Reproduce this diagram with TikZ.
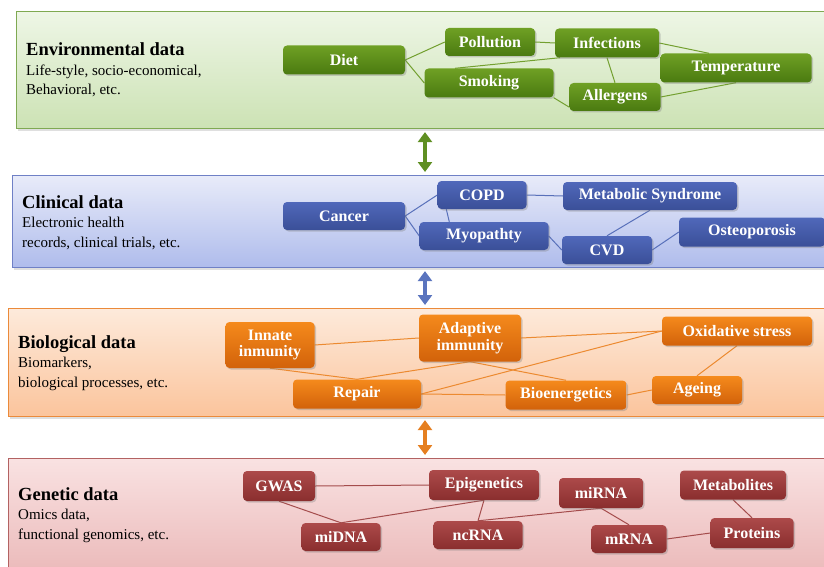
\documentclass[tikz,border=0pt]{standalone}
\usepackage{fontspec}
\setmainfont{Liberation Serif}
\usetikzlibrary{shadows,arrows.meta}

\definecolor{envtop}{HTML}{EEF6E6}   \definecolor{envbot}{HTML}{CCE2B4}
\definecolor{envrim}{HTML}{7FA952}   \definecolor{envlinkcol}{HTML}{73A030}
\definecolor{envnodetop}{HTML}{6FA024} \definecolor{envnodebot}{HTML}{4A7A10}
\definecolor{clintop}{HTML}{E8EBF9}  \definecolor{clinbot}{HTML}{AFBCEC}
\definecolor{clinrim}{HTML}{6F80C6}  \definecolor{clinlinkcol}{HTML}{5870BA}
\definecolor{clinnodetop}{HTML}{5068BA} \definecolor{clinnodebot}{HTML}{3A4F98}
\definecolor{biotop}{HTML}{FDEADB}   \definecolor{biobot}{HTML}{FBC49C}
\definecolor{biorim}{HTML}{EB8A3A}   \definecolor{biolinkcol}{HTML}{EC8A30}
\definecolor{bionodetop}{HTML}{F58A1C} \definecolor{bionodebot}{HTML}{D2620A}
\definecolor{gentop}{HTML}{F9E2E2}   \definecolor{genbot}{HTML}{EBB9B9}
\definecolor{genrim}{HTML}{B36262}   \definecolor{genlinkcol}{HTML}{A44C4C}
\definecolor{gennodetop}{HTML}{AC4A4A} \definecolor{gennodebot}{HTML}{8A2E2E}
\definecolor{envarrowcol}{HTML}{5F8F22}
\definecolor{clinarrowcol}{HTML}{5A74BE}
\definecolor{bioarrowcol}{HTML}{E57F20}

\pgfdeclarelayer{panels}
\pgfdeclarelayer{links}
\pgfsetlayers{panels,links,main}

% heading and two lines of text on the left of a panel
\newcommand{\panellabel}[6]{%
  \node[headtext] (#1head) at (#2,#3) {#4};
  \node[bodytext] (#1one) at (#2,#3+19.5) {#5};
  \node[bodytext] (#1two) at (#2,#3+39) {#6};}

\def \envnodes {Diet/344/60/122/29/Diet,Pollution/490/42/90/28/Pollution,Infections/607/43/104/29/Infections,Smoking/489/83/129/29/Smoking,Allergens/615/97/91/28/Allergens,Temperature/736/68/151/29/Temperature}
\def \clinnodes {Cancer/344/216/122/28/Cancer,COPD/482/195/89/28/COPD,Metab/650/196/174/28/Metabolic Syndrome,Myo/484/236/129/28/Myopathty,CVD/607/250/90/28/CVD,Osteo/752/232/146/29/Osteoporosis}
\def \bionodes {Innate/270/345/89/46/Innate\\inmunity,Adaptive/470/338/102/47/Adaptive\\immunity,Oxid/737/331/150/29/Oxidative stress,Repair/357/394/128/29/Repair,Bioen/566/395/121/29/Bioenergetics,Ageing/697/390/90/28/Ageing}
\def \gennodes {GWAS/279/486/72/30/GWAS,miDNA/341/537/79/28/miDNA,Epi/484/485/110/30/Epigenetics,ncRNA/478/535/89/28/ncRNA,miRNA/601/493/84/30/miRNA,mRNA/629/539/75/28/mRNA,Metabo/733/485/106/29/Metabolites,Proteins/752/533/83/30/Proteins}

\def \envlinks {Diet.east/Pollution.west,Diet.east/Smoking.west,Pollution.east/Infections.west,Infections.south/Allergens.north,Allergens.east/Temperature.south}
\def \clinlinks {Cancer.east/COPD.west,Cancer.east/Myo.west,COPD.east/Metab.west,Myo.east/CVD.west,Metab.south/CVD.north,CVD.east/Osteo.west}
\def \biolinks {Innate.east/Adaptive.west,Adaptive.east/Oxid.west,Innate.south/Repair.north,Repair.north/Adaptive.south,Adaptive.south/Bioen.north,Repair.east/Bioen.west,Repair.east/Oxid.west,Bioen.east/Ageing.west,Ageing.north/Oxid.south}
\def \genlinks {GWAS.east/Epi.west,GWAS.south/miDNA.north,miDNA.north/Epi.south,Epi.south/ncRNA.north,ncRNA.north/miRNA.south,miRNA.south/mRNA.north,mRNA.east/Proteins.west,Metabo.south/Proteins.north}

\begin{document}
\begin{tikzpicture}
   [x=1pt, y=-1pt,
   panel/.style={anchor=north west, inner sep=0pt, line width=1.1pt,
      drop shadow={opacity=.25, shadow xshift=1.5pt, shadow yshift=-2pt}},
   headtext/.style={anchor=base west, inner sep=0pt, font=\fontsize{18.5}{19}\selectfont\bfseries},
   bodytext/.style={anchor=base west, inner sep=0pt, font=\fontsize{15}{19}\selectfont},
   box/.style={rounded corners=4pt, inner sep=0pt, align=center, text=white,
      font=\fontsize{16}{16.5}\selectfont\bfseries,
      drop shadow={opacity=.35, shadow xshift=1.5pt, shadow yshift=-1.5pt}},
   envbox/.style={box, top color=envnodetop, bottom color=envnodebot},
   clinbox/.style={box, top color=clinnodetop, bottom color=clinnodebot},
   biobox/.style={box, top color=bionodetop, bottom color=bionodebot},
   genbox/.style={box, top color=gennodetop, bottom color=gennodebot},
   envlink/.style={draw=envlinkcol, line width=1pt},
   clinlink/.style={draw=clinlinkcol, line width=1pt},
   biolink/.style={draw=biolinkcol, line width=1pt},
   genlink/.style={draw=genlinkcol, line width=1pt},
   twoway/.style={line width=3.6pt, shorten >=3pt, shorten <=3pt,
      {Triangle[width=14pt,length=10pt]}-{Triangle[width=14pt,length=10pt]}}]{
\useasboundingbox (0,0) rectangle (824,567);

% the four layers
\begin{pgfonlayer}{panels}
\node[panel, draw=envrim, top color=envtop, bottom color=envbot, minimum width=814pt, minimum height=117pt] (envpanel) at (16,11) {};
\node[panel, draw=clinrim, top color=clintop, bottom color=clinbot, minimum width=818pt, minimum height=92pt] (clinpanel) at (12,175) {};
\node[panel, draw=biorim, top color=biotop, bottom color=biobot, minimum width=822pt, minimum height=108pt] (biopanel) at (8,308) {};
\node[panel, draw=genrim, top color=gentop, bottom color=genbot, minimum width=822pt, minimum height=117pt] (genpanel) at (8,458) {};
\end{pgfonlayer}

\panellabel{env}{26}{56}{Environmental data}{Life-style, socio-economical,}{Behavioral, etc.}
\panellabel{clin}{22}{208}{Clinical data}{Electronic health}{records, clinical trials, etc.}
\panellabel{bio}{18}{348}{Biological data}{Biomarkers,}{biological processes, etc.}
\panellabel{gen}{18}{500}{Genetic data}{Omics data,}{functional genomics, etc.}

% arrows between layers
\coordinate (ax) at (425,0);
\draw[twoway, envarrowcol] (ax |- envpanel.south) -- (ax |- clinpanel.north);
\draw[twoway, clinarrowcol] (ax |- clinpanel.south) -- (ax |- biopanel.north);
\draw[twoway, bioarrowcol] (ax |- biopanel.south) -- (ax |- genpanel.north);

% boxes
\foreach \nm / \x / \y / \w / \h / \txt in \envnodes
   \node[envbox, minimum width=\w pt, minimum height=\h pt] (\nm) at (\x,\y) {\txt};
\foreach \nm / \x / \y / \w / \h / \txt in \clinnodes
   \node[clinbox, minimum width=\w pt, minimum height=\h pt] (\nm) at (\x,\y) {\txt};
\foreach \nm / \x / \y / \w / \h / \txt in \bionodes
   \node[biobox, minimum width=\w pt, minimum height=\h pt] (\nm) at (\x,\y) {\txt};
\foreach \nm / \x / \y / \w / \h / \txt in \gennodes
   \node[genbox, minimum width=\w pt, minimum height=\h pt] (\nm) at (\x,\y) {\txt};

% links behind the boxes
\begin{pgfonlayer}{links}
\foreach \a / \b in \envlinks \draw[envlink] (\a) -- (\b);
\draw[envlink] ([xshift=-34pt]Smoking.north) -- ([xshift=-47pt]Infections.south);
\draw[envlink] (Smoking.south east) -- ([yshift=4pt]Allergens.south west);
\draw[envlink] (Infections.east) -- ([xshift=-27pt]Temperature.north);
\foreach \a / \b in \clinlinks \draw[clinlink] (\a) -- (\b);
\draw[clinlink] ([xshift=9pt]COPD.south west) -- ([xshift=30pt]Myo.north west);
\foreach \a / \b in \biolinks \draw[biolink] (\a) -- (\b);
\foreach \a / \b in \genlinks \draw[genlink] (\a) -- (\b);
\end{pgfonlayer}
};
\end{tikzpicture}
\end{document}
